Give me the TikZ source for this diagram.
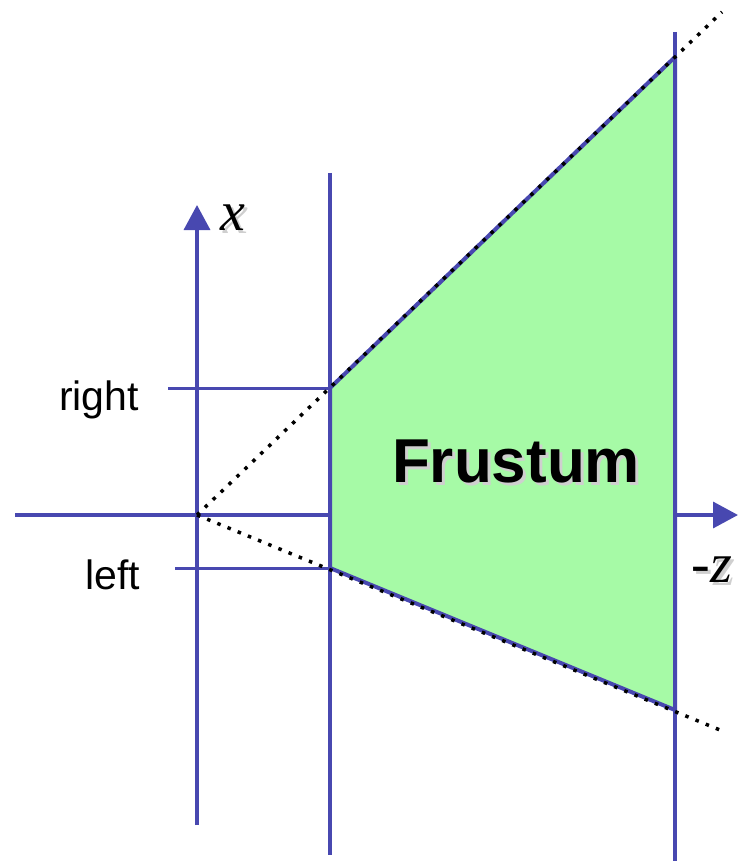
\documentclass[tikz,border=0pt]{standalone}
\usepackage{fontspec}
\setmainfont{Liberation Serif}
\setsansfont{Liberation Sans}
\usetikzlibrary{arrows.meta}
\definecolor{axisblue}{HTML}{4848B0}
\definecolor{frustgreen}{HTML}{A6FAA6}
\definecolor{shade}{HTML}{CFCFCF}
\newcommand\shadowtxt[1]{\makebox[0pt][l]{\kern3pt\raisebox{-3pt}{\color{shade}#1}}#1}
\tikzset{
  axis/.style={draw=axisblue,line width=3.5pt,-{Triangle[length=25pt,width=26pt]}},
  plane/.style={draw=axisblue,line width=4pt},
  tick/.style={draw=axisblue,line width=3pt},
  ray/.style={draw=black,line width=3.5pt,dash pattern=on 3.5pt off 7.5pt},
  vol/.style={fill=frustgreen,draw=axisblue,line width=4pt,line join=round},
  lbl/.style={font=\sffamily\fontsize{41}{41}\selectfont,inner sep=0pt,anchor=base},
  axlbl/.style={font=\itshape\fontsize{56}{56}\selectfont,inner sep=0pt,anchor=base},
  biglbl/.style={font=\sffamily\bfseries\fontsize{62}{62}\selectfont,inner sep=0pt,anchor=base},
}
\begin{document}
\begin{tikzpicture}[x=1pt,y=-1pt]
  \useasboundingbox (0,0) rectangle (738,861);
  % eye point and the two clipping planes
  \coordinate (O) at (197,515);
  \coordinate (nt) at (330,388);
  \coordinate (nb) at (330,568);
  \coordinate (ft) at (675,57);
  \coordinate (fb) at (675,710);
  \coordinate (rt) at (722,12);
  \coordinate (rb) at (720,730);
  % axes
  \coordinate (xs) at (197,825);
  \coordinate (xe) at (197,205);
  \coordinate (zs) at (15,515);
  \coordinate (ze) at (738,515);
  \draw[axis] (xs) -- (xe);
  \draw[axis] (zs) -- (ze);
  % the frustum itself
  \path[vol] (nb) -- (nt) -- (ft) -- (fb) -- cycle;
  % near and far planes
  \coordinate (n0) at (330,173);
  \coordinate (n1) at (330,855);
  \coordinate (f0) at (675,32);
  \coordinate (f1) at (675,861);
  \draw[plane] (n0) -- (n1);
  \draw[plane] (f0) -- (f1);
  % right / left marks
  \coordinate (r0) at (168,388);
  \coordinate (l0) at (175,568);
  \draw[tick] (r0) -- (nt);
  \draw[tick] (l0) -- (nb);
  \node[lbl] (right) at (99,410) {right};
  \node[lbl] (left) at (113,589) {left};
  % view rays
  \draw[ray] (O) -- (rt);
  \draw[ray] (O) -- (rb);
  \node[axlbl] (xlab) at (233,230) {\shadowtxt{x}};
  \node[axlbl] (zlab) at (712,582) {\shadowtxt{-z}};
  \node[biglbl] (frus) at (516,482) {\shadowtxt{Frustum}};
\end{tikzpicture}
\end{document}
